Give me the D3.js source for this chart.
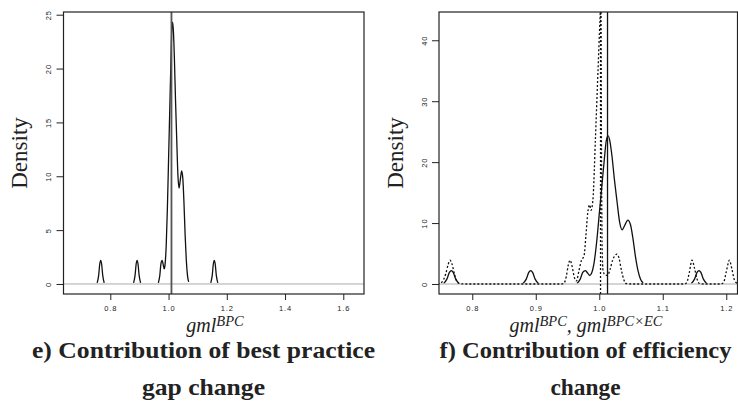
<!DOCTYPE html>
<html lang="en">
<head>
    <meta charset="UTF-8">
    <script src="https://d3js.org/d3.v7.min.js"></script>
    <title>Density of gml components</title>
    <style>
        body {
            margin: 0;
            background-color: #ffffff;
        }
        .tick text {
            font-family: "Liberation Sans", Arial, sans-serif;
            font-size: 7.5px;
            letter-spacing: 0.9px;
            fill: #222;
        }
        .tick line {
            stroke: #222;
        }
        .ylab {
            font-family: "Liberation Serif", serif;
            font-size: 23px;
            fill: #222;
        }
        .xlab {
            font-family: "Liberation Serif", serif;
            font-style: italic;
            font-size: 20px;
            fill: #222;
        }
        .title {
            font-family: "Liberation Serif", serif;
            font-weight: bold;
            font-size: 24px;
            fill: #222;
        }
    </style>
</head>
<body>
    <div id="chart"></div>

    <script>
        // kernel density of gml^BPC as [value, density]
        const bpcDensity = [
            [0.750, 0], [0.755, 0.1], [0.760, 0.8], [0.764, 1.9], [0.767, 2.2], [0.770, 1.9],
            [0.774, 0.8], [0.779, 0.1], [0.784, 0],
            [0.875, 0], [0.880, 0.1], [0.885, 0.8], [0.889, 1.9], [0.892, 2.2], [0.895, 1.9],
            [0.899, 0.8], [0.904, 0.1], [0.909, 0],
            [0.960, 0], [0.965, 0.1], [0.970, 0.8], [0.974, 1.9], [0.978, 2.2], [0.981, 1.9],
            [0.985, 1.4], [0.988, 1.8], [0.992, 3.6], [0.996, 7.0], [1.000, 11.5], [1.004, 16],
            [1.008, 20.5], [1.011, 23.5], [1.014, 24.3], [1.017, 23.3], [1.020, 21], [1.024, 17],
            [1.028, 13.5], [1.032, 10.2], [1.036, 8.9], [1.040, 9.6], [1.045, 10.5], [1.049, 9.8],
            [1.053, 7.5], [1.057, 4.5], [1.061, 2.2], [1.065, 0.8], [1.069, 0.2], [1.073, 0],
            [1.140, 0], [1.145, 0.1], [1.150, 0.8], [1.154, 1.9], [1.157, 2.2], [1.160, 1.9],
            [1.164, 0.8], [1.169, 0.1], [1.174, 0]
        ];

        // kernel density of gml^(BPC x EC), dotted line in panel f
        const ecDensity = [
            [0.745, 0.05], [0.752, 0.3], [0.758, 1.6], [0.762, 3.2], [0.765, 3.9], [0.768, 3.3],
            [0.772, 1.6], [0.776, 0.4], [0.781, 0.05], [0.790, 0],
            [0.940, 0], [0.944, 0.1], [0.948, 1.2], [0.951, 3.0], [0.954, 3.9], [0.957, 3.0],
            [0.961, 1.0], [0.964, 0.5], [0.968, 2.2], [0.972, 3.9], [0.976, 4.6], [0.979, 8],
            [0.982, 11.8], [0.985, 13.0], [0.987, 12.1], [0.990, 13.8], [0.994, 24], [0.998, 35],
            [1.001, 43], [1.0025, 46], [1.0035, 22], [1.0045, 6], [1.006, 2.2], [1.009, 1.5],
            [1.013, 1.4], [1.017, 2.4], [1.021, 3.9], [1.025, 4.7], [1.028, 4.9], [1.031, 4.3],
            [1.035, 2.2], [1.039, 0.6], [1.043, 0.05], [1.050, 0],
            [1.134, 0], [1.138, 0.3], [1.142, 2.0], [1.146, 3.9], [1.150, 2.6], [1.154, 0.8],
            [1.158, 0.05], [1.165, 0],
            [1.192, 0], [1.196, 0.3], [1.200, 2.0], [1.205, 3.9], [1.209, 2.4], [1.213, 0.6],
            [1.218, 0.05]
        ];

        const leftXTicks = [0.8, 1.0, 1.2, 1.4, 1.6];
        const leftYTicks = [0, 5, 10, 15, 20, 25];
        const rightXTicks = [0.8, 0.9, 1.0, 1.1, 1.2];
        const rightYTicks = [0, 10, 20, 30, 40];

        const leftMeanBPC = 1.010;
        const rightMeanBPC = 1.013;
        const rightMeanEC = 1.002;

        const titles = {
            left: ["e) Contribution of best practice", "gap change"],
            right: ["f) Contribution of efficiency", "change"]
        };

        const width = 738, height = 406;

        const svg = d3.select("#chart").append("svg")
            .attr("width", width)
            .attr("height", height)
            .style("display", "block");

        const drawPanel = (cfg) => {
            const x = d3.scaleLinear().domain(cfg.xDomain).range([cfg.left, cfg.right]);
            const y = d3.scaleLinear().domain(cfg.yDomain).range([cfg.bottom, cfg.top]);
            const g = svg.append("g");

            g.append("clipPath").attr("id", cfg.id + "-clip")
                .append("rect")
                .attr("x", cfg.left).attr("y", cfg.top)
                .attr("width", cfg.right - cfg.left).attr("height", cfg.bottom - cfg.top);

            const plot = g.append("g").attr("clip-path", `url(#${cfg.id}-clip)`);

            const line = d3.line()
                .defined(d => d[1] > 0)
                .x(d => x(d[0]))
                .y(d => y(d[1]))
                .curve(d3.curveMonotoneX);

            // solid density
            plot.append("path")
                .datum(bpcDensity)
                .attr("d", line)
                .attr("fill", "none")
                .attr("stroke", "#111")
                .attr("stroke-width", 1.3);

            // zero line
            plot.append("line")
                .attr("x1", cfg.left).attr("x2", cfg.right)
                .attr("y1", y(0)).attr("y2", y(0))
                .attr("stroke", "#aaa")
                .attr("stroke-width", 1);

            if (cfg.dotted) {
                plot.append("path")
                    .datum(ecDensity)
                    .attr("d", d3.line().x(d => x(d[0])).y(d => y(d[1])).curve(d3.curveMonotoneX))
                    .attr("fill", "none")
                    .attr("stroke", "#111")
                    .attr("stroke-width", 1.3)
                    .attr("stroke-dasharray", "2,2");

                plot.append("line")
                    .attr("x1", x(rightMeanEC)).attr("x2", x(rightMeanEC))
                    .attr("y1", cfg.top).attr("y2", cfg.bottom)
                    .attr("stroke", "#111")
                    .attr("stroke-width", 1.3)
                    .attr("stroke-dasharray", "2,2");
            }

            plot.append("line")
                .attr("x1", x(cfg.mean)).attr("x2", x(cfg.mean))
                .attr("y1", cfg.top).attr("y2", cfg.bottom)
                .attr("stroke", cfg.meanColor)
                .attr("stroke-width", cfg.meanWidth);

            // axes
            const xAxis = g.append("g")
                .attr("transform", `translate(0,${cfg.bottom})`)
                .call(d3.axisBottom(x).tickValues(cfg.xTicks).tickSize(6).tickFormat(d3.format(".1f")));
            xAxis.select(".domain").remove();
            xAxis.selectAll(".tick text").attr("y", 17).attr("dy", 0);

            const yAxis = g.append("g")
                .attr("transform", `translate(${cfg.left},0)`)
                .call(d3.axisLeft(y).tickValues(cfg.yTicks).tickSize(7));
            yAxis.select(".domain").remove();
            yAxis.selectAll(".tick text")
                .attr("x", 0).attr("dy", "0.35em")
                .attr("text-anchor", "middle")
                .attr("transform", "translate(-15,0) rotate(-90)");

            // box
            g.append("rect")
                .attr("x", cfg.left).attr("y", cfg.top)
                .attr("width", cfg.right - cfg.left).attr("height", cfg.bottom - cfg.top)
                .attr("fill", "none")
                .attr("stroke", "#222")
                .attr("stroke-width", 1.2);

            g.append("text")
                .attr("class", "ylab")
                .attr("text-anchor", "middle")
                .attr("transform", `translate(${cfg.ylabX},${(cfg.top + cfg.bottom) / 2}) rotate(-90)`)
                .text("Density");

            const xl = g.append("text")
                .attr("class", "xlab")
                .attr("text-anchor", "middle")
                .attr("x", cfg.labelCenter)
                .attr("y", 332);
            cfg.xlabParts.forEach(p => {
                const t = xl.append("tspan").text(p.text);
                if (p.sup) t.attr("font-size", 14.5).attr("baseline-shift", "6px");
            });

            cfg.title.forEach((t, i) => {
                g.append("text")
                    .attr("class", "title")
                    .attr("text-anchor", "middle")
                    .attr("x", cfg.titleCenter)
                    .attr("y", 358 + i * 37)
                    .attr("textLength", cfg.titleLengths[i])
                    .attr("lengthAdjust", "spacingAndGlyphs")
                    .text(t);
            });
        };

        drawPanel({
            id: "left",
            left: 63.5, right: 364, top: 12, bottom: 294,
            xDomain: [0.6393, 1.6711], yDomain: [-0.93, 25.25],
            xTicks: leftXTicks, yTicks: leftYTicks,
            mean: leftMeanBPC, meanColor: "#555", meanWidth: 1.8,
            dotted: false,
            ylabX: 27, labelCenter: 215, titleCenter: 203.5,
            xlabParts: [{text: "gml"}, {text: "BPC", sup: true}],
            title: titles.left, titleLengths: [343, 123]
        });

        drawPanel({
            id: "right",
            left: 439, right: 737.5, top: 12, bottom: 294,
            xDomain: [0.7476, 1.2177], yDomain: [-1.64, 44.64],
            xTicks: rightXTicks, yTicks: rightYTicks,
            mean: rightMeanBPC, meanColor: "#111", meanWidth: 1.3,
            dotted: true,
            ylabX: 403, labelCenter: 586, titleCenter: 585.5,
            xlabParts: [{text: "gml"}, {text: "BPC", sup: true}, {text: ", gml"}, {text: "BPC×EC", sup: true}],
            title: titles.right, titleLengths: [292, 70]
        });
    </script>
</body>
</html>
